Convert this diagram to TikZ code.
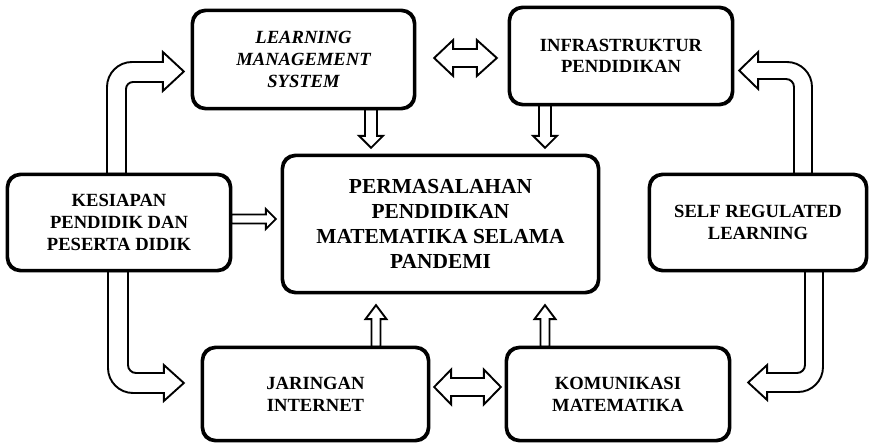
\documentclass[tikz,border=0pt]{standalone}
\usepackage{fontspec}
\setmainfont{Liberation Serif}
\usetikzlibrary{calc}
% vertical fat arrow: x, ystart, ybase, ytip, shaft half, head half
\newcommand\vfat[6]{(#1-#5,#2) -- (#1-#5,#3) -- (#1-#6,#3) -- (#1,#4) -- (#1+#6,#3) -- (#1+#5,#3) -- (#1+#5,#2) -- cycle}
% horizontal fat arrow: y, xstart, xbase, xtip, shaft half, head half
\newcommand\hfat[6]{(#2,#1-#5) -- (#3,#1-#5) -- (#3,#1-#6) -- (#4,#1) -- (#3,#1+#6) -- (#3,#1+#5) -- (#2,#1+#5) -- cycle}
% horizontal double fat arrow: y, xtipL, xbaseL, xbaseR, xtipR, shaft half, head half
\newcommand\hdbl[7]{(#2,#1) -- (#3,#1+#7) -- (#3,#1+#6) -- (#4,#1+#6) -- (#4,#1+#7) -- (#5,#1) -- (#4,#1-#7) -- (#4,#1-#6) -- (#3,#1-#6) -- (#3,#1-#7) -- cycle}
\begin{document}
\begin{tikzpicture}[x=1pt,y=1pt,
  box/.style={draw, line width=2.3pt, rounded corners=13pt, align=center, inner sep=0pt,
    font=\bfseries\fontsize{18.6}{21.7}\selectfont},
  ibox/.style={box, font=\bfseries\itshape\fontsize{18.6}{21.7}\selectfont},
  bigbox/.style={box, font=\bfseries\fontsize{21.4}{25}\selectfont},
  fat/.style={draw, fill=white, line width=1.9pt, line join=miter}]
\useasboundingbox (0,0) rectangle (869,442);

% nodes
\node[ibox, minimum width=221pt, minimum height=97pt] (lms) at (303.5,382.5) {LEARNING\\MANAGEMENT\\SYSTEM};
\node[box, minimum width=222pt, minimum height=96pt] (infra) at (621,386) {INFRASTRUKTUR\\PENDIDIKAN};
\node[bigbox, minimum width=315pt, minimum height=136pt] (center) at (440.5,218) {PERMASALAHAN\\PENDIDIKAN\\MATEMATIKA SELAMA\\PANDEMI};
\node[box, minimum width=222pt, minimum height=95pt] (kes) at (119,219.5) {KESIAPAN\\PENDIDIK DAN\\PESERTA DIDIK};
\node[box, minimum width=216pt, minimum height=95pt] (self) at (758,219.5) {SELF REGULATED\\LEARNING};
\node[box, minimum width=225pt, minimum height=92pt] (jar) at (315.5,48) {JARINGAN\\INTERNET};
\node[box, minimum width=222pt, minimum height=92pt] (kom) at (618,48) {KOMUNIKASI\\MATEMATIKA};

% straight arrows
\draw[fat] let \p1=(lms.south), \p2=(center.north) in \vfat{\x1+67.5pt}{\y1}{\y2+19pt}{\y2+7pt}{6}{12};
\draw[fat] let \p1=(infra.south), \p2=(center.north) in \vfat{\x1-76pt}{\y1}{\y2+19pt}{\y2+7pt}{6}{12};
\draw[fat] let \p1=(jar.north), \p2=(center.south) in \vfat{\x1+60.5pt}{\y1}{\y2-26pt}{\y2-12pt}{4.5}{10.5};
\draw[fat] let \p1=(kom.north), \p2=(center.south) in \vfat{\x1-73pt}{\y1}{\y2-26pt}{\y2-12pt}{4.5}{10.5};
\draw[fat] let \p1=(kes.east), \p2=(center.west) in \hfat{\y1+3.5pt}{\x1}{\x2-16pt}{\x2-6pt}{4.5}{10};

% double arrows
\draw[fat] let \p1=(lms.east), \p2=(infra.west) in \hdbl{\y1+1.5pt}{\x1+19pt}{\x1+38pt}{\x2-32pt}{\x2-12pt}{9}{18};
\draw[fat] let \p1=(jar.east), \p2=(kom.west) in \hdbl{\y1+7pt}{\x1+5pt}{\x1+22pt}{\x2-22pt}{\x2-5pt}{9}{17.5};

% curved arrows
\draw[fat] let \p1=(kes.north), \p2=(lms.west) in
  (\x1-12pt,\y1) -- (\x1-12pt,\y2-27.5pt) arc[start angle=180,end angle=90,radius=25pt]
  -- (\x2-29pt,\y2-2.5pt) -- (\x2-29pt,\y2+7.5pt) -- (\x2-8pt,\y2-12pt)
  -- (\x2-29pt,\y2-31.5pt) -- (\x2-29pt,\y2-22.5pt)
  -- (\x1+14pt,\y2-22.5pt) arc[start angle=90,end angle=180,radius=7pt]
  -- (\x1+7pt,\y1) -- cycle;
\draw[fat] let \p1=(kes.south), \p2=(jar.west) in
  (\x1-11pt,\y1) -- (\x1-11pt,\y2+26pt) arc[start angle=180,end angle=270,radius=25pt]
  -- (\x2-38pt,\y2+1pt) -- (\x2-38pt,\y2-7pt) -- (\x2-18pt,\y2+11pt)
  -- (\x2-38pt,\y2+29pt) -- (\x2-38pt,\y2+21pt)
  -- (\x1+17pt,\y2+21pt) arc[start angle=270,end angle=180,radius=8pt]
  -- (\x1+9pt,\y1) -- cycle;
\draw[fat] let \p1=(self.north), \p2=(infra.east) in
  (\x1+54pt,\y1) -- (\x1+54pt,\y2-31pt) arc[start angle=0,end angle=90,radius=25pt]
  -- (\x2+25pt,\y2-6pt) -- (\x2+25pt,\y2+4pt) -- (\x2+6pt,\y2-14.5pt)
  -- (\x2+25pt,\y2-33pt) -- (\x2+25pt,\y2-23pt)
  -- (\x1+28pt,\y2-23pt) arc[start angle=90,end angle=0,radius=8pt]
  -- (\x1+36pt,\y1) -- cycle;
\draw[fat] let \p1=(self.south), \p2=(kom.east) in
  (\x1+65pt,\y1) -- (\x1+65pt,\y2+27pt) arc[start angle=0,end angle=-90,radius=25pt]
  -- (\x2+37pt,\y2+2pt) -- (\x2+37pt,\y2-6pt) -- (\x2+18pt,\y2+11.5pt)
  -- (\x2+37pt,\y2+29pt) -- (\x2+37pt,\y2+21pt)
  -- (\x1+39pt,\y2+21pt) arc[start angle=-90,end angle=0,radius=8pt]
  -- (\x1+47pt,\y1) -- cycle;

% redraw box borders on top of arrow joints
\foreach \n in {lms,infra,center,kes,self,jar,kom}{
  \draw[line width=2.3pt, rounded corners=13pt] (\n.south west) rectangle (\n.north east);
}
\end{tikzpicture}
\end{document}
